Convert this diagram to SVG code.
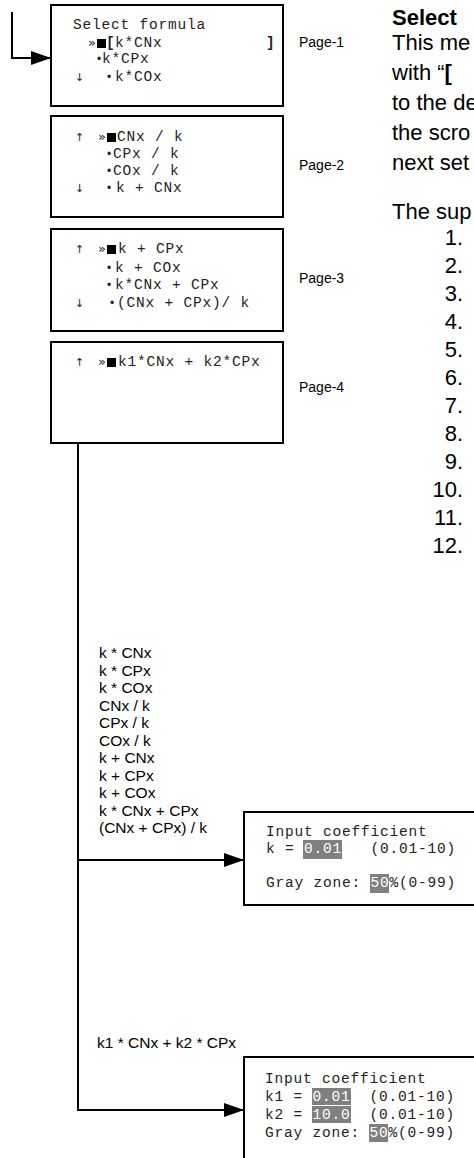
<svg xmlns="http://www.w3.org/2000/svg" width="474" height="1158" viewBox="0 0 474 1158">
<defs>
<style>
.box{fill:#fff;stroke:#000;stroke-width:2}
.mono{font-family:"Liberation Mono","Courier New",monospace;font-size:14.5px;letter-spacing:0.8px;fill:#222}
.sym{font-family:"DejaVu Sans","Liberation Sans",sans-serif;font-size:11px;fill:#222}
.gt{font-family:"DejaVu Sans","Liberation Sans",sans-serif;font-size:13px;fill:#222}
.bul{font-family:"Liberation Sans",Arial,sans-serif;font-size:12px;fill:#222}
.sans{font-family:"Liberation Sans",Arial,sans-serif;font-size:15.5px;fill:#000}
.page{font-family:"Liberation Sans",Arial,sans-serif;font-size:14px;fill:#000}
.body{font-family:"Liberation Sans",Arial,sans-serif;font-size:22px;fill:#000}
.hl{fill:#808080}
.wt{fill:#fff}
.line{fill:none;stroke:#000;stroke-width:2}
</style>
<marker id="arr" markerWidth="20" markerHeight="14" refX="20" refY="7" orient="auto" markerUnits="userSpaceOnUse">
<path d="M0,0 L20,7 L0,14 Z" fill="#000"/>
</marker>
</defs>

<g id="connectors">
<path class="line" d="M12,12 V58 H51" marker-end="url(#arr)"/>
<path class="line" d="M78,443 V1110 H244" marker-end="url(#arr)"/>
<path class="line" d="M78,860 H244" marker-end="url(#arr)"/>
</g>

<g id="page1">
<rect class="box" x="51" y="5" width="232" height="101"/>
<text class="mono" x="73" y="29">Select formula</text>
<text class="gt" x="88" y="47">»</text>
<rect x="97" y="39" width="9" height="9" fill="#000"/>
<text class="mono" x="106" y="47" font-weight="bold">[</text>
<text class="mono" x="115" y="47">k*CNx</text>
<text class="mono" x="266" y="47" font-weight="bold">]</text>
<text class="bul" x="97" y="63">•</text>
<text class="mono" x="102" y="63">k*CPx</text>
<text class="sym" x="75" y="81">↓</text>
<text class="bul" x="107" y="81">•</text>
<text class="mono" x="115" y="81">k*COx</text>
<text class="page" x="299" y="47">Page-1</text>
</g>

<g id="page2">
<rect class="box" x="51" y="116" width="232" height="101"/>
<text class="sym" x="75" y="141">↑</text>
<text class="gt" x="98" y="141">»</text>
<rect x="107" y="133" width="9" height="9" fill="#000"/>
<text class="mono" x="117" y="141">CNx / k</text>
<text class="bul" x="107" y="158">•</text>
<text class="mono" x="113" y="158">CPx / k</text>
<text class="bul" x="107" y="175">•</text>
<text class="mono" x="113" y="175">COx / k</text>
<text class="sym" x="75" y="192">↓</text>
<text class="bul" x="107" y="192">•</text>
<text class="mono" x="116" y="192">k + CNx</text>
<text class="page" x="299" y="170">Page-2</text>
</g>

<g id="page3">
<rect class="box" x="51" y="229" width="232" height="102"/>
<text class="sym" x="75" y="253">↑</text>
<text class="gt" x="98" y="253">»</text>
<rect x="107" y="245" width="9" height="9" fill="#000"/>
<text class="mono" x="118" y="253">k + CPx</text>
<text class="bul" x="107" y="272">•</text>
<text class="mono" x="115" y="272">k + COx</text>
<text class="bul" x="107" y="289">•</text>
<text class="mono" x="115" y="289">k*CNx + CPx</text>
<text class="sym" x="75" y="307">↓</text>
<text class="bul" x="110" y="307">•</text>
<text class="mono" x="117" y="307">(CNx + CPx)/ k</text>
<text class="page" x="299" y="283">Page-3</text>
</g>

<g id="page4">
<rect class="box" x="51" y="342" width="232" height="101"/>
<text class="sym" x="75" y="366">↑</text>
<text class="gt" x="98" y="366">»</text>
<rect x="107" y="358" width="9" height="9" fill="#000"/>
<text class="mono" x="118" y="366">k1*CNx + k2*CPx</text>
<text class="page" x="299" y="392">Page-4</text>
</g>

<g id="description">
<text class="body" x="392" y="25" font-weight="bold" font-size="25">Select</text>
<text class="body" x="392" y="50">This me</text>
<text class="body" x="392" y="80">with “<tspan font-weight="bold">[</tspan></text>
<text class="body" x="392" y="110">to the de</text>
<text class="body" x="392" y="140">the scro</text>
<text class="body" x="392" y="170">next set</text>
<text class="body" x="392" y="219">The sup</text>
<g text-anchor="end">
<text class="body" x="463" y="245">1.</text>
<text class="body" x="463" y="273">2.</text>
<text class="body" x="463" y="301">3.</text>
<text class="body" x="463" y="329">4.</text>
<text class="body" x="463" y="357">5.</text>
<text class="body" x="463" y="385">6.</text>
<text class="body" x="463" y="413">7.</text>
<text class="body" x="463" y="441">8.</text>
<text class="body" x="463" y="469">9.</text>
<text class="body" x="463" y="497">10.</text>
<text class="body" x="463" y="525">11.</text>
<text class="body" x="463" y="553">12.</text>
</g>
</g>

<g id="formula-labels">
<text class="sans" x="99" y="658">k * CNx</text>
<text class="sans" x="99" y="675.5">k * CPx</text>
<text class="sans" x="99" y="693">k * COx</text>
<text class="sans" x="99" y="710.5">CNx / k</text>
<text class="sans" x="99" y="728">CPx / k</text>
<text class="sans" x="99" y="745.5">COx / k</text>
<text class="sans" x="99" y="763">k + CNx</text>
<text class="sans" x="99" y="780.5">k + CPx</text>
<text class="sans" x="99" y="798">k + COx</text>
<text class="sans" x="99" y="815.5">k * CNx + CPx</text>
<text class="sans" x="99" y="833">(CNx + CPx) / k</text>
<text class="sans" x="97" y="1048">k1 * CNx + k2 * CPx</text>
</g>

<g id="input1">
<rect class="box" x="244" y="812" width="260" height="93"/>
<rect class="hl" x="303" y="840" width="39" height="19"/>
<rect class="hl" x="370" y="874" width="19" height="19"/>
<text class="mono" x="266" y="836">Input coefficient</text>
<text class="mono" x="266" y="853" xml:space="preserve">k = <tspan class="wt">0.01</tspan>   (0.01-10)</text>
<text class="mono" x="266" y="887">Gray zone: <tspan class="wt">50</tspan>%(0-99)</text>
</g>

<g id="input2">
<rect class="box" x="244" y="1057" width="260" height="120"/>
<rect class="hl" x="312" y="1088" width="39" height="17"/>
<rect class="hl" x="312" y="1106" width="39" height="17"/>
<rect class="hl" x="369" y="1124" width="19" height="18"/>
<text class="mono" x="265" y="1083">Input coefficient</text>
<text class="mono" x="265" y="1101" xml:space="preserve">k1 = <tspan class="wt">0.01</tspan>  (0.01-10)</text>
<text class="mono" x="265" y="1119" xml:space="preserve">k2 = <tspan class="wt">10.0</tspan>  (0.01-10)</text>
<text class="mono" x="265" y="1137">Gray zone: <tspan class="wt">50</tspan>%(0-99)</text>
</g>
</svg>
